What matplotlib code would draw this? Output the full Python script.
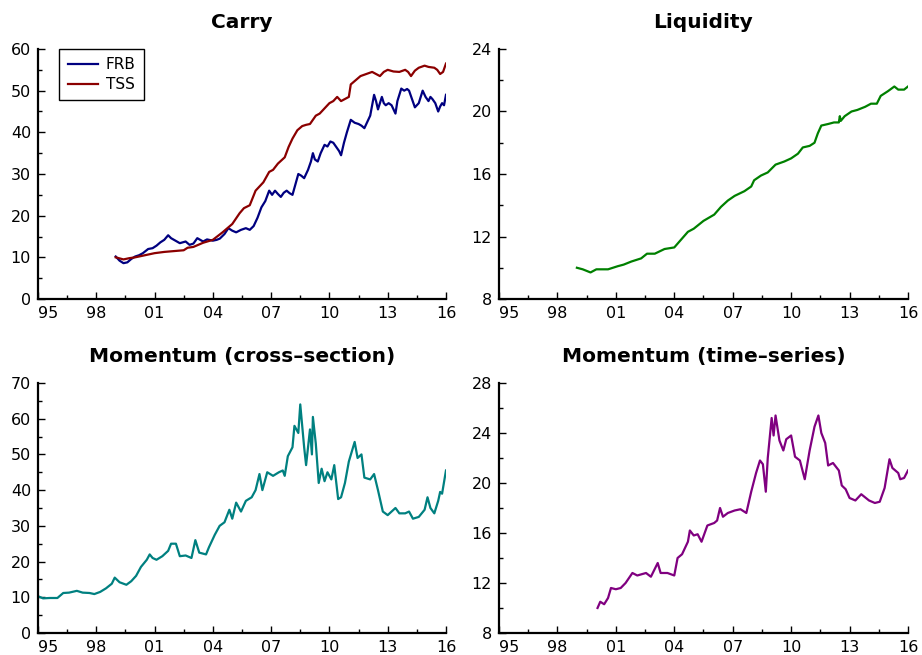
import matplotlib.pyplot as plt
import numpy as np
from matplotlib.ticker import FixedLocator

# values (year, level)
frb_years = [1999.0, 1999.2, 1999.4, 1999.6, 1999.8, 2000.0, 2000.2, 2000.4, 2000.67, 2000.9,
             2001.1, 2001.3, 2001.5, 2001.7, 2001.85, 2002.0, 2002.3, 2002.6, 2002.8, 2003.0,
             2003.2, 2003.5, 2003.7, 2004.0, 2004.2, 2004.36, 2004.6, 2004.8, 2005.0, 2005.2,
             2005.45, 2005.7, 2005.9, 2006.1, 2006.3, 2006.5, 2006.7, 2006.9, 2007.05, 2007.2,
             2007.35, 2007.5, 2007.65, 2007.8, 2007.95, 2008.1, 2008.25, 2008.4, 2008.55, 2008.7,
             2008.9, 2009.05, 2009.15, 2009.25, 2009.4, 2009.55, 2009.75, 2009.9, 2010.05, 2010.2,
             2010.35, 2010.5, 2010.6, 2010.75, 2010.9, 2011.1, 2011.3, 2011.5, 2011.65, 2011.8,
             2011.95, 2012.1, 2012.3, 2012.4, 2012.5, 2012.6, 2012.7, 2012.8, 2012.9, 2013.05,
             2013.2, 2013.4, 2013.5, 2013.6, 2013.7, 2013.85, 2014.0, 2014.1, 2014.25, 2014.4,
             2014.5, 2014.6, 2014.7, 2014.8, 2014.95, 2015.1, 2015.2, 2015.3, 2015.45, 2015.6,
             2015.7, 2015.8, 2015.9, 2016.0]
frb_vals = [10.2, 9.2, 8.6, 8.8, 9.6, 10.2, 10.5, 11.0, 12.0, 12.2,
            12.8, 13.6, 14.2, 15.3, 14.6, 14.2, 13.4, 13.8, 13.0, 13.3,
            14.6, 13.8, 14.3, 14.0, 14.2, 14.5, 15.6, 17.0, 16.4, 16.0,
            16.6, 17.0, 16.6, 17.5, 19.5, 22.0, 23.5, 26.0, 25.0, 26.0,
            25.2, 24.5, 25.5, 26.0, 25.4, 25.0, 27.5, 30.0, 29.6, 29.0,
            31.0, 33.0, 35.0, 33.5, 33.0, 35.0, 37.0, 36.6, 37.8, 37.5,
            36.5, 35.5, 34.5, 37.5, 40.0, 43.0, 42.3, 42.0, 41.6, 41.0,
            42.5, 44.0, 49.0, 47.5, 45.5, 47.0, 48.5, 47.0, 46.5, 47.0,
            46.5, 44.5, 47.5, 49.0, 50.5, 50.0, 50.4, 50.0, 48.0, 46.0,
            46.5, 47.0, 48.5, 50.0, 48.5, 47.5, 48.5, 48.0, 47.0, 45.0,
            46.2, 47.0, 46.5, 49.0]
tss_years = [1999.0, 1999.4, 1999.7, 2000.0, 2000.5, 2001.0, 2001.5, 2002.0, 2002.5, 2002.7,
             2003.0, 2003.5, 2004.0, 2004.5, 2005.0, 2005.38, 2005.6, 2005.9, 2006.2, 2006.6,
             2006.9, 2007.1, 2007.35, 2007.7, 2007.9, 2008.1, 2008.35, 2008.6, 2008.8, 2009.0,
             2009.3, 2009.5, 2009.7, 2010.0, 2010.2, 2010.4, 2010.6, 2010.8, 2011.0, 2011.1,
             2011.35, 2011.6, 2011.9, 2012.2, 2012.4, 2012.6, 2012.8, 2013.0, 2013.3, 2013.6,
             2013.9, 2014.05, 2014.2, 2014.4, 2014.6, 2014.9, 2015.1, 2015.4, 2015.55, 2015.7,
             2015.85, 2016.0]
tss_vals = [10.0, 9.5, 9.8, 10.0, 10.5, 11.0, 11.3, 11.5, 11.7, 12.3,
            12.5, 13.5, 14.2, 16.0, 18.0, 20.6, 21.8, 22.5, 26.0, 28.0,
            30.5, 31.0, 32.5, 34.0, 36.5, 38.5, 40.5, 41.5, 41.8, 42.0,
            44.0, 44.5, 45.5, 47.0, 47.5, 48.5, 47.5, 48.0, 48.5, 51.5,
            52.5, 53.5, 54.0, 54.5, 54.0, 53.5, 54.5, 55.0, 54.6, 54.5,
            55.0, 54.5, 53.5, 54.8, 55.5, 56.0, 55.7, 55.5, 55.0, 54.0,
            54.5, 56.5]

liq_years = [1999.0, 1999.3, 1999.7, 2000.0, 2000.2, 2000.6, 2001.1, 2001.4, 2001.8, 2002.3,
             2002.6, 2003.0, 2003.5, 2004.0, 2004.35, 2004.7, 2005.0, 2005.5, 2006.05, 2006.4,
             2006.75, 2007.1, 2007.6, 2007.95, 2008.1, 2008.45, 2008.8, 2009.2, 2009.65, 2010.0,
             2010.35, 2010.6, 2010.95, 2011.2, 2011.37, 2011.55, 2011.9, 2012.2, 2012.45, 2012.5,
             2012.55, 2012.75, 2013.1, 2013.4, 2013.8, 2014.1, 2014.4, 2014.6, 2014.97, 2015.3,
             2015.5, 2015.8, 2016.0]
liq_vals = [10.0, 9.9, 9.7, 9.9, 9.9, 9.9, 10.1, 10.2, 10.4, 10.6,
            10.9, 10.9, 11.2, 11.3, 11.8, 12.3, 12.5, 13.0, 13.4, 13.9,
            14.3, 14.6, 14.9, 15.2, 15.6, 15.9, 16.1, 16.6, 16.8, 17.0,
            17.3, 17.7, 17.8, 18.0, 18.6, 19.1, 19.2, 19.3, 19.3, 19.7,
            19.4, 19.7, 20.0, 20.1, 20.3, 20.5, 20.5, 21.0, 21.3, 21.6,
            21.4, 21.4, 21.6]

mcs_years = [1995.0, 1995.26, 1995.6, 1996.0, 1996.3, 1996.6, 1997.0, 1997.3, 1997.65, 1997.9,
             1998.2, 1998.5, 1998.8, 1998.95, 1999.2, 1999.55, 1999.8, 2000.05, 2000.3, 2000.6,
             2000.75, 2000.9, 2001.1, 2001.4, 2001.7, 2001.85, 2002.1, 2002.3, 2002.6, 2002.9,
             2003.1, 2003.3, 2003.65, 2003.8, 2004.1, 2004.35, 2004.6, 2004.85, 2005.0, 2005.2,
             2005.45, 2005.7, 2006.0, 2006.2, 2006.4, 2006.55, 2006.8, 2007.1, 2007.4, 2007.6,
             2007.7, 2007.86, 2008.1, 2008.2, 2008.4, 2008.5, 2008.7, 2008.8, 2009.0, 2009.1,
             2009.15, 2009.3, 2009.45, 2009.6, 2009.75, 2009.9, 2010.1, 2010.25, 2010.45, 2010.6,
             2010.8, 2011.0, 2011.3, 2011.45, 2011.65, 2011.8, 2012.1, 2012.3, 2012.5, 2012.75,
             2013.0, 2013.4, 2013.6, 2013.9, 2014.1, 2014.3, 2014.6, 2014.9, 2015.05, 2015.2,
             2015.4, 2015.6, 2015.7, 2015.8, 2016.0]
mcs_vals = [10.3, 9.7, 9.8, 9.8, 11.2, 11.3, 11.8, 11.3, 11.2, 10.9,
            11.5, 12.5, 13.8, 15.5, 14.2, 13.5, 14.5, 16.0, 18.5, 20.5,
            22.0, 21.0, 20.5, 21.5, 23.0, 25.0, 25.0, 21.5, 21.7, 21.0,
            26.0, 22.5, 22.0, 24.0, 27.5, 30.0, 31.0, 34.5, 32.0, 36.5,
            34.0, 37.0, 38.0, 40.0, 44.5, 40.0, 45.0, 44.0, 45.0, 45.5,
            44.0, 49.5, 52.0, 58.0, 56.0, 64.0, 52.0, 47.0, 57.0, 50.0,
            60.5, 53.0, 42.0, 46.0, 42.5, 45.0, 43.0, 47.0, 37.5, 38.0,
            42.0, 48.0, 53.5, 49.0, 50.0, 43.5, 43.0, 44.5, 40.0, 34.0,
            33.0, 35.0, 33.5, 33.5, 34.0, 32.0, 32.5, 34.5, 38.0, 35.0,
            33.5, 37.0, 39.5, 39.0, 45.5]

mts_years = [2000.06, 2000.2, 2000.4, 2000.6, 2000.75, 2001.0, 2001.25, 2001.5, 2001.85, 2002.1,
             2002.55, 2002.8, 2003.15, 2003.3, 2003.65, 2004.0, 2004.17, 2004.4, 2004.7, 2004.8,
             2005.0, 2005.2, 2005.4, 2005.7, 2006.05, 2006.2, 2006.35, 2006.5, 2006.75, 2007.1,
             2007.4, 2007.7, 2007.95, 2008.2, 2008.4, 2008.55, 2008.7, 2008.8, 2009.0, 2009.1,
             2009.2, 2009.4, 2009.6, 2009.75, 2010.0, 2010.2, 2010.45, 2010.7, 2010.95, 2011.2,
             2011.4, 2011.55, 2011.75, 2011.9, 2012.15, 2012.45, 2012.6, 2012.8, 2013.0, 2013.3,
             2013.6, 2014.0, 2014.3, 2014.55, 2014.8, 2015.05, 2015.2, 2015.5, 2015.6, 2015.8,
             2016.0]
mts_vals = [10.0, 10.5, 10.3, 10.8, 11.6, 11.5, 11.6, 12.0, 12.8, 12.6,
            12.8, 12.5, 13.6, 12.8, 12.8, 12.6, 14.0, 14.3, 15.3, 16.2,
            15.8, 15.9, 15.3, 16.6, 16.8, 17.0, 18.0, 17.3, 17.6, 17.8,
            17.9, 17.6, 19.3, 20.8, 21.8, 21.5, 19.3, 22.0, 25.2, 23.8,
            25.4, 23.4, 22.6, 23.5, 23.8, 22.1, 21.8, 20.3, 22.6, 24.5,
            25.4, 24.0, 23.2, 21.4, 21.6, 21.0, 19.8, 19.5, 18.8, 18.6,
            19.1, 18.6, 18.4, 18.5, 19.6, 21.9, 21.2, 20.8, 20.3, 20.4,
            21.0]

year_ticks = [1995, 1998, 2001, 2004, 2007, 2010, 2013, 2016]
year_labels = ['95', '98', '01', '04', '07', '10', '13', '16']


def style_axis(ax, title, ymin, ymax, ystep):
    ax.set_title(title, fontsize=14.5, fontweight='bold', pad=15)
    for side in ['top', 'right']:
        ax.spines[side].set_visible(False)
    for side in ['left', 'bottom']:
        ax.spines[side].set_linewidth(1.6)
    ax.set_xlim(1995, 2016)
    ax.set_ylim(ymin, ymax)
    ax.set_xticks(year_ticks)
    ax.set_xticklabels(year_labels)
    ax.xaxis.get_majorticklabels()[0].set_horizontalalignment('left')
    ax.xaxis.set_minor_locator(FixedLocator(np.arange(1996.5, 2016, 3)))
    ax.set_yticks(np.arange(ymin, ymax + ystep / 2, ystep))
    ax.yaxis.set_minor_locator(FixedLocator(np.arange(ymin + ystep / 2, ymax, ystep)))
    ax.tick_params(which='major', direction='in', length=5, width=1, labelsize=11.5, pad=5)
    ax.tick_params(which='minor', direction='in', length=3, width=1)


fig = plt.figure(figsize=(9.22, 6.55), dpi=100)

ax1 = fig.add_axes([0.0412, 0.5435, 0.4425, 0.3817])
ax1.plot(frb_years, frb_vals, color='#000080', lw=1.6, label='FRB')
ax1.plot(tss_years, tss_vals, color='#8B0000', lw=1.6, label='TSS')
style_axis(ax1, 'Carry', 0, 60, 10)
leg = ax1.legend(loc='upper left', bbox_to_anchor=(0.052, 1.0), borderaxespad=0, fontsize=11,
                 fancybox=False, framealpha=1, edgecolor='black', handlelength=2.0,
                 borderpad=0.55, labelspacing=0.3, handletextpad=0.5)
leg.get_frame().set_linewidth(1.0)

ax2 = fig.add_axes([0.5412, 0.5435, 0.4436, 0.3817])
ax2.plot(liq_years, liq_vals, color='#008000', lw=1.6)
style_axis(ax2, 'Liquidity', 8, 24, 4)

ax3 = fig.add_axes([0.0412, 0.0336, 0.4425, 0.3817])
ax3.plot(mcs_years, mcs_vals, color='#008080', lw=1.6)
style_axis(ax3, 'Momentum (cross\u2013section)', 0, 70, 10)

ax4 = fig.add_axes([0.5412, 0.0336, 0.4436, 0.3817])
ax4.plot(mts_years, mts_vals, color='#800080', lw=1.6)
style_axis(ax4, 'Momentum (time\u2013series)', 8, 28, 4)

fig.savefig('out.png', dpi=100)
